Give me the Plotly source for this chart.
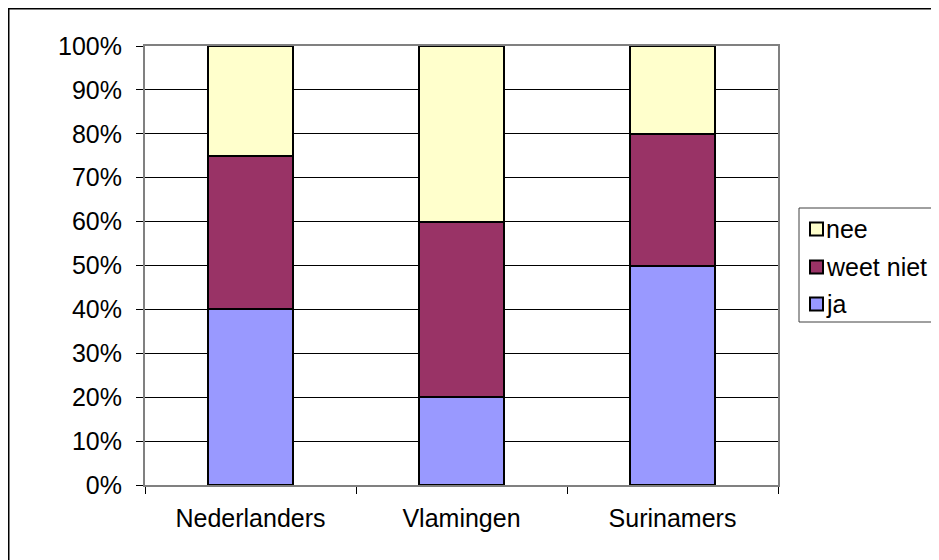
import plotly.graph_objects as go

categories = ["Nederlanders", "Vlamingen", "Surinamers"]
ja = [40, 20, 50]
weet_niet = [35, 40, 30]
nee = [25, 40, 20]
y_ticks = [0, 10, 20, 30, 40, 50, 60, 70, 80, 90, 100]
y_tick_labels = [f"{v}%" for v in y_ticks]
series_names = ["ja", "weet niet", "nee"]
series_colors = ["#9999FF", "#993366", "#FFFFCC"]

# page body has an 8px margin; figure coordinates below are screen - 8
W, H = 931, 552
L, R, T, B = 137, 770, 38, 477
pw, ph = R - L, B - T
FS = 25

def px_x(x):
    return (x - L) / pw

def px_y(y):
    return (B - y) / ph

fig = go.Figure()
for name, vals, col in zip(series_names, [ja, weet_niet, nee], series_colors):
    fig.add_trace(go.Bar(
        x=categories, y=vals, name=name,
        marker=dict(color=col, line=dict(color="black", width=2)),
        showlegend=False,
    ))

font = "Liberation Sans, Arial, sans-serif"

shapes = [
    # outer chart border
    dict(type="rect", xref="paper", yref="paper",
         x0=px_x(0.75), x1=px_x(W + 20), y0=px_y(H + 20), y1=px_y(0.75),
         line=dict(color="black", width=1.5), fillcolor="rgba(0,0,0,0)", layer="below"),
    # legend box
    dict(type="rect", xref="paper", yref="paper",
         x0=px_x(791), x1=px_x(W + 10), y0=px_y(314), y1=px_y(200),
         line=dict(color="#404040", width=1), fillcolor="white", layer="above"),
]
annotations = []
row_y = [296, 259, 221]  # ja, weet niet, nee
for name, col, ry in zip(series_names, series_colors, row_y):
    shapes.append(dict(type="rect", xref="paper", yref="paper",
                       x0=px_x(802), x1=px_x(815), y0=px_y(ry + 6.5), y1=px_y(ry - 6.5),
                       line=dict(color="black", width=2), fillcolor=col, layer="above"))
    annotations.append(dict(text=name, xref="paper", yref="paper",
                            x=px_x(816), y=px_y(ry), xanchor="left", yanchor="middle",
                            showarrow=False, font=dict(size=FS, color="black", family=font)))

fig.update_layout(
    width=W, height=H,
    margin=dict(l=L, r=W - R, t=T, b=H - B, pad=0),
    barmode="stack", bargap=0.6,
    paper_bgcolor="white", plot_bgcolor="white",
    font=dict(family=font, size=FS, color="black"),
    showlegend=False,
    xaxis=dict(
        showline=True, linecolor="#808080", linewidth=2, mirror=True,
        ticks="outside", tickson="boundaries", ticklen=7, tickcolor="black", tickwidth=1,
        showgrid=False, tickfont=dict(size=FS), ticklabelstandoff=10,
    ),
    yaxis=dict(
        range=[0, 100], tickvals=y_ticks, ticktext=y_tick_labels,
        showline=True, linecolor="#808080", linewidth=2, mirror=True,
        ticks="outside", ticklen=7, tickcolor="black", tickwidth=1,
        showgrid=True, gridcolor="black", gridwidth=1,
        tickfont=dict(size=FS), zeroline=False, ticklabelstandoff=9,
    ),
    shapes=shapes,
    annotations=annotations,
)

fig.write_html("out.html")
